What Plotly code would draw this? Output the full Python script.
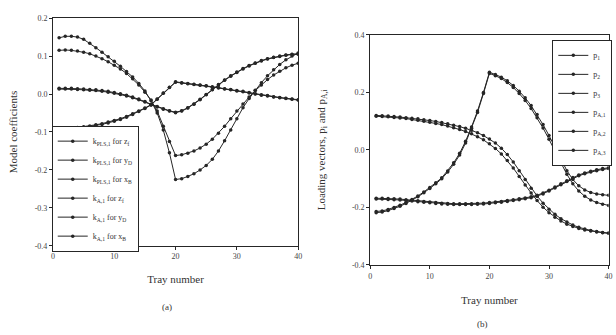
import plotly.graph_objects as go

trays = list(range(1, 41))

# ---- panel (a): model coefficients ----
k_pls_zf = [0.148, 0.152, 0.152, 0.150, 0.144, 0.134, 0.122, 0.110, 0.098, 0.086,
            0.073, 0.059, 0.045, 0.028, 0.008, -0.018, -0.050, -0.095, -0.155, -0.225,
            -0.223, -0.217, -0.210, -0.200, -0.188, -0.172, -0.150, -0.123, -0.095, -0.065,
            -0.036, -0.012, 0.010, 0.030, 0.048, 0.064, 0.078, 0.090, 0.100, 0.108]
k_a_zf = [0.115, 0.116, 0.115, 0.113, 0.110, 0.106, 0.100, 0.093, 0.085, 0.076,
          0.066, 0.054, 0.040, 0.024, 0.005, -0.016, -0.045, -0.085, -0.125, -0.162,
          -0.160, -0.156, -0.150, -0.142, -0.132, -0.119, -0.103, -0.085, -0.065, -0.045,
          -0.026, -0.008, 0.009, 0.024, 0.038, 0.050, 0.060, 0.069, 0.076, 0.081]
k_pls_yd = [0.015, 0.015, 0.015, 0.014, 0.013, 0.012, 0.011, 0.009, 0.007, 0.004,
            0.001, -0.003, -0.008, -0.013, -0.020, -0.027, -0.033, -0.039, -0.044, -0.048,
            -0.044, -0.036, -0.026, -0.014, -0.001, 0.012, 0.025, 0.037, 0.048, 0.058,
            0.067, 0.075, 0.082, 0.088, 0.093, 0.097, 0.100, 0.103, 0.105, 0.106]
k_a_yd = [0.013, 0.013, 0.013, 0.012, 0.011, 0.010, 0.009, 0.007, 0.005, 0.002,
          -0.001, -0.005, -0.010, -0.015, -0.021, -0.028, -0.034, -0.040, -0.045, -0.049,
          -0.045, -0.037, -0.027, -0.015, -0.002, 0.011, 0.024, 0.036, 0.047, 0.057,
          0.066, 0.074, 0.081, 0.087, 0.092, 0.096, 0.099, 0.102, 0.104, 0.105]
k_pls_xb = [-0.090, -0.090, -0.089, -0.088, -0.086, -0.084, -0.081, -0.078, -0.074, -0.070,
            -0.065, -0.059, -0.052, -0.045, -0.037, -0.028, -0.013, 0.003, 0.018, 0.032,
            0.030, 0.028, 0.026, 0.024, 0.022, 0.019, 0.017, 0.014, 0.012, 0.009,
            0.007, 0.004, 0.001, -0.002, -0.004, -0.007, -0.009, -0.011, -0.013, -0.015]
k_a_xb = [-0.092, -0.092, -0.091, -0.090, -0.088, -0.086, -0.083, -0.080, -0.076, -0.072,
          -0.067, -0.061, -0.054, -0.046, -0.038, -0.029, -0.014, 0.002, 0.017, 0.031,
          0.029, 0.027, 0.025, 0.023, 0.021, 0.018, 0.016, 0.013, 0.011, 0.008,
          0.006, 0.003, 0.000, -0.003, -0.005, -0.008, -0.010, -0.012, -0.014, -0.016]

names_a = ["k<sub>PLS,1</sub> for z<sub>f</sub>", "k<sub>PLS,1</sub> for y<sub>D</sub>",
           "k<sub>PLS,1</sub> for x<sub>B</sub>", "k<sub>A,1</sub> for z<sub>f</sub>",
           "k<sub>A,1</sub> for y<sub>D</sub>", "k<sub>A,1</sub> for x<sub>B</sub>"]
series_a = [k_pls_zf, k_pls_yd, k_pls_xb, k_a_zf, k_a_yd, k_a_xb]

# ---- panel (b): loading vectors ----
p1 = [0.120, 0.119, 0.118, 0.116, 0.114, 0.112, 0.110, 0.108, 0.105, 0.102,
      0.099, 0.095, 0.091, 0.086, 0.081, 0.075, 0.068, 0.060, 0.050, 0.038,
      0.024, 0.006, -0.016, -0.042, -0.072, -0.103, -0.133, -0.160, -0.185, -0.206,
      -0.224, -0.239, -0.251, -0.261, -0.269, -0.275, -0.280, -0.284, -0.287, -0.289]
p2 = [-0.214, -0.212, -0.207, -0.200, -0.192, -0.183, -0.172, -0.160, -0.146, -0.131,
      -0.114, -0.097, -0.073, -0.045, -0.012, 0.030, 0.080, 0.135, 0.200, 0.270,
      0.262, 0.253, 0.240, 0.224, 0.204, 0.181, 0.154, 0.123, 0.088, 0.050,
      0.010, -0.032, -0.072, -0.103, -0.125, -0.139, -0.148, -0.153, -0.156, -0.158]
p3 = [-0.168, -0.168, -0.169, -0.170, -0.171, -0.173, -0.175, -0.177, -0.179, -0.181,
      -0.183, -0.185, -0.186, -0.187, -0.187, -0.187, -0.187, -0.186, -0.185, -0.183,
      -0.181, -0.179, -0.176, -0.173, -0.170, -0.167, -0.163, -0.158, -0.150, -0.140,
      -0.129, -0.118, -0.107, -0.096, -0.087, -0.080, -0.074, -0.069, -0.065, -0.062]
pa1 = [0.117, 0.116, 0.115, 0.113, 0.111, 0.109, 0.106, 0.103, 0.100, 0.096,
       0.092, 0.088, 0.083, 0.077, 0.071, 0.064, 0.056, 0.046, 0.035, 0.021,
       0.005, -0.014, -0.037, -0.063, -0.092, -0.122, -0.150, -0.176, -0.199, -0.218,
       -0.234, -0.247, -0.258, -0.266, -0.273, -0.278, -0.282, -0.285, -0.288, -0.290]
pa2 = [-0.218, -0.216, -0.211, -0.204, -0.196, -0.186, -0.175, -0.163, -0.149, -0.134,
       -0.118, -0.100, -0.077, -0.050, -0.018, 0.024, 0.075, 0.130, 0.196, 0.266,
       0.258, 0.248, 0.234, 0.217, 0.196, 0.172, 0.144, 0.112, 0.076, 0.037,
       -0.004, -0.045, -0.085, -0.118, -0.143, -0.161, -0.174, -0.183, -0.189, -0.193]
pa3 = [-0.171, -0.171, -0.172, -0.173, -0.174, -0.176, -0.178, -0.180, -0.182, -0.184,
       -0.186, -0.188, -0.189, -0.190, -0.190, -0.190, -0.190, -0.189, -0.188, -0.186,
       -0.184, -0.182, -0.179, -0.176, -0.173, -0.170, -0.166, -0.161, -0.153, -0.143,
       -0.132, -0.121, -0.110, -0.099, -0.090, -0.083, -0.077, -0.072, -0.068, -0.065]

names_b = ["p<sub>1</sub>", "p<sub>2</sub>", "p<sub>3</sub>",
           "p<sub>A,1</sub>", "p<sub>A,2</sub>", "p<sub>A,3</sub>"]
series_b = [p1, p2, p3, pa1, pa2, pa3]

x_ticks = [0, 10, 20, 30, 40]
ya_ticks = [0.2, 0.1, 0.0, -0.1, -0.2, -0.3, -0.4]
ya_text = ["0.2", "0.1", "0.0", "-0.1", "-0.2", "-0.3", "-0.4"]
yb_ticks = [0.4, 0.2, 0.0, -0.2, -0.4]
yb_text = ["0.4", "0.2", "0.0", "-0.2", "-0.4"]

INK = "#262626"
TXT = "#333333"
FONT = "Liberation Serif"

fig = go.Figure()
for nm, ys in zip(names_a, series_a):
    fig.add_trace(go.Scatter(x=trays, y=ys, name=nm, mode="lines+markers",
                             line=dict(color=INK, width=1),
                             marker=dict(color=INK, size=3.5),
                             xaxis="x", yaxis="y", legend="legend"))
for nm, ys in zip(names_b, series_b):
    fig.add_trace(go.Scatter(x=trays, y=ys, name=nm, mode="lines+markers",
                             line=dict(color=INK, width=1),
                             marker=dict(color=INK, size=3.5),
                             xaxis="x2", yaxis="y2", legend="legend2"))

axis_common = dict(showline=True, linecolor=INK, linewidth=1, mirror=True,
                   ticks="outside", ticklen=3, tickcolor=INK, showgrid=False,
                   zeroline=False, automargin=False,
                   tickfont=dict(family=FONT, size=8, color="#444"))
title_font = dict(family=FONT, size=11, color=TXT)

fig.update_layout(
    width=616, height=335,
    margin=dict(l=0, r=0, t=0, b=0, autoexpand=False),
    paper_bgcolor="white", plot_bgcolor="white",
    font=dict(family=FONT, color=TXT),
    showlegend=True,
    xaxis=dict(domain=[0.086, 0.484], range=[0, 40], tickvals=x_ticks,
               title=dict(text="Tray number", font=title_font, standoff=14),
               anchor="y", **axis_common),
    yaxis=dict(domain=[0.266, 0.946], range=[-0.4, 0.2], tickvals=ya_ticks, ticktext=ya_text,
               title=dict(text="Model coefficients", font=title_font, standoff=14),
               anchor="x", **axis_common),
    xaxis2=dict(domain=[0.601, 0.988], range=[0, 40], tickvals=x_ticks,
                title=dict(text="Tray number", font=title_font, standoff=16),
                anchor="y2", **axis_common),
    yaxis2=dict(domain=[0.209, 0.896], range=[-0.4, 0.4], tickvals=yb_ticks, ticktext=yb_text,
                title=dict(text="Loading vectors, p<sub>i</sub> and p<sub>A,i</sub>",
                           font=title_font, standoff=24),
                anchor="x2", **axis_common),
    legend=dict(x=0.084, y=0.625, xanchor="left", yanchor="top",
                bgcolor="white", bordercolor=INK, borderwidth=1,
                font=dict(family=FONT, size=8, color=TXT),
                tracegroupgap=0, itemwidth=30),
    legend2=dict(x=0.994, y=0.881, xanchor="right", yanchor="top",
                 bgcolor="white", bordercolor=INK, borderwidth=1,
                 font=dict(family=FONT, size=8, color=TXT),
                 tracegroupgap=0, itemwidth=30),
    annotations=[
        dict(text="(a)", x=167 / 616, y=1 - 307 / 335, xref="paper", yref="paper",
             xanchor="center", yanchor="middle",
             showarrow=False, font=dict(family=FONT, size=9, color=TXT)),
        dict(text="(b)", x=482 / 616, y=1 - 324 / 335, xref="paper", yref="paper",
             xanchor="center", yanchor="middle",
             showarrow=False, font=dict(family=FONT, size=9, color=TXT)),
    ],
)

fig.write_html("out.html")
